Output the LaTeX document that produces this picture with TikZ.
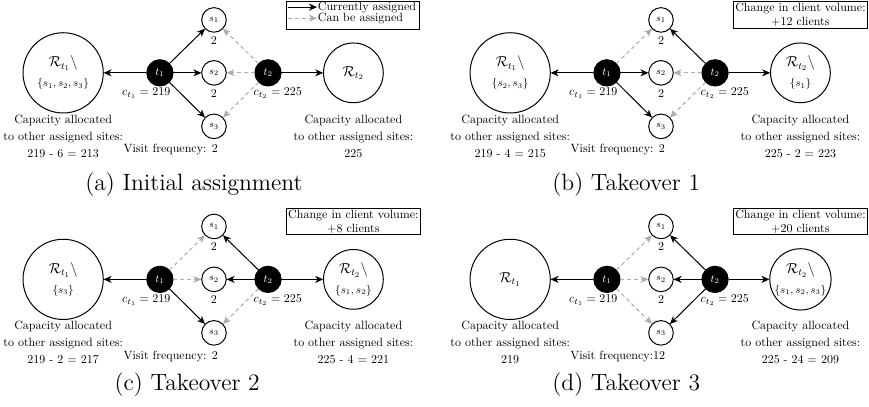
\documentclass[tikz,border=0pt]{standalone}
\usepackage{tikz}
\usetikzlibrary{arrows.meta}

\newcommand{\siteset}[1]{{\fontsize{9}{11}\selectfont$\{#1\}$}}

\begin{document}
\begin{tikzpicture}[line width=0.5pt]

		\tikzstyle{panel}=[scale=0.6, every node/.style={transform shape}]
		\tikzstyle{task}=[circle, draw=black, fill=black, text=white, minimum size=7.7mm, inner sep=0pt, font=\fontsize{9}{10}\selectfont]
		\tikzstyle{site}=[circle, draw=black, fill=white, minimum size=7.2mm, inner sep=0pt, font=\fontsize{8}{10}\selectfont]
		\tikzstyle{pool}=[circle, draw=black, inner sep=0pt, align=center, font=\fontsize{12}{16.5}\selectfont]
		\tikzstyle{cur}=[-{Stealth[length=4pt, width=3.5pt, inset=1.2pt]}, black]
		\tikzstyle{can}=[-{Stealth[length=4pt, width=3.5pt, inset=1.2pt]}, gray!65, dash pattern=on 2pt off 1.5pt]
		\tikzstyle{lbl}=[inner sep=0pt, align=center, font=\fontsize{10}{14.2}\selectfont]
		\tikzstyle{vol}=[draw=black, inner sep=1.3pt, align=center, font=\fontsize{10}{11.7}\selectfont]
		\tikzstyle{subcap}=[inner sep=0pt, font=\fontsize{11.8}{14}\selectfont]

		\useasboundingbox (-3.76,-5.87) rectangle (11.51,1.28);

		%% (a) initial assignment
		\begin{scope}[panel]
		\node (Ra1) at (-4.417,0) [pool, minimum size=23.5mm] {$\mathcal{R}_{t_1}\backslash$\\\siteset{s_1,s_2,s_3}};
		\node (ta1) at (-1.583,0) [task] {$t_1$};
		\node (sa1) at (0,1.55) [site] {$s_1$};
		\node (sa2) at (0,0) [site] {$s_2$};
		\node (sa3) at (0,-1.567) [site] {$s_3$};
		\node (ta2) at (1.583,0) [task] {$t_2$};
		\node (Ra2) at (4.083,0) [pool, minimum size=17.5mm] {$\mathcal{R}_{t_2}$};

		\draw [cur] (ta1) -- (Ra1);
		\draw [cur] (ta1) -- (sa1);
		\draw [cur] (ta1) -- (sa2);
		\draw [cur] (ta1) -- (sa3);
		\draw [can] (ta2) -- (sa1);
		\draw [can] (ta2) -- (sa2);
		\draw [can] (ta2) -- (sa3);
		\draw [cur] (ta2) -- (Ra2);

		\node (fa1) at (0,0.95) [lbl] {2};
		\node (fa2) at (0,-0.6) [lbl] {2};
		\node (ca1) at (-1.983,-0.6) [lbl] {$c_{t_1} = 219$};
		\node (ca2) at (1.867,-0.6) [lbl] {$c_{t_2} = 225$};
		\node (ka1) at (-4.417,-1.85) [lbl] {Capacity allocated\\to other assigned sites:\\219 - 6 = 213};
		\node (ka2) at (4.083,-1.85) [lbl] {Capacity allocated\\to other assigned sites:\\225};
		\node (va) at (-1.267,-2.25) [lbl] {Visit frequency: 2};

		%% legend
		\node (leg) at (4.083,1.692) [draw=black, minimum width=3.9cm, minimum height=0.82cm] {};
		\coordinate (la1) at (2.167,1.925);
		\coordinate (la2) at (3.017,1.925);
		\coordinate (lb1) at (2.167,1.6);
		\coordinate (lb2) at (3.017,1.6);
		\draw [cur] (la1) -- (la2);
		\draw [can] (lb1) -- (lb2);
		\node (lta) at (la2) [lbl, anchor=west, xshift=0.5pt] {Currently assigned};
		\node (ltb) at (lb2) [lbl, anchor=west, xshift=0.5pt] {Can be assigned};
		\end{scope}

		%% (b) takeover 1
		\begin{scope}[shift={(7.855,0)}, panel]
		\node (Rb1) at (-4.417,0) [pool, minimum size=23.5mm] {$\mathcal{R}_{t_1}\backslash$\\\siteset{s_2,s_3}};
		\node (tb1) at (-1.583,0) [task] {$t_1$};
		\node (sb1) at (0,1.55) [site] {$s_1$};
		\node (sb2) at (0,0) [site] {$s_2$};
		\node (sb3) at (0,-1.567) [site] {$s_3$};
		\node (tb2) at (1.583,0) [task] {$t_2$};
		\node (Rb2) at (4.083,0) [pool, minimum size=17.5mm] {$\mathcal{R}_{t_2}\backslash$\\\siteset{s_1}};

		\draw [cur] (tb1) -- (Rb1);
		\draw [can] (tb1) -- (sb1);
		\draw [cur] (tb1) -- (sb2);
		\draw [cur] (tb1) -- (sb3);
		\draw [cur] (tb2) -- (sb1);
		\draw [can] (tb2) -- (sb2);
		\draw [can] (tb2) -- (sb3);
		\draw [cur] (tb2) -- (Rb2);

		\node (fb1) at (0,0.95) [lbl] {2};
		\node (fb2) at (0,-0.6) [lbl] {2};
		\node (cb1) at (-1.983,-0.6) [lbl] {$c_{t_1} = 219$};
		\node (cb2) at (1.867,-0.6) [lbl] {$c_{t_2} = 225$};
		\node (kb1) at (-4.417,-1.85) [lbl] {Capacity allocated\\to other assigned sites:\\219 - 4 = 215};
		\node (kb2) at (4.083,-1.85) [lbl] {Capacity allocated\\to other assigned sites:\\225 - 2 = 223};
		\node (vb) at (-1.267,-2.25) [lbl] {Visit frequency: 2};
		\node (boxb) at (4.083,1.7) [vol] {Change in client volume:\\+12 clients};
		\end{scope}

		%% (c) takeover 2
		\begin{scope}[shift={(0,-3.629)}, panel]
		\node (Rc1) at (-4.417,0) [pool, minimum size=23.5mm] {$\mathcal{R}_{t_1}\backslash$\\\siteset{s_3}};
		\node (tc1) at (-1.583,0) [task] {$t_1$};
		\node (sc1) at (0,1.55) [site] {$s_1$};
		\node (sc2) at (0,0) [site] {$s_2$};
		\node (sc3) at (0,-1.567) [site] {$s_3$};
		\node (tc2) at (1.583,0) [task] {$t_2$};
		\node (Rc2) at (4.083,0) [pool, minimum size=17.5mm] {$\mathcal{R}_{t_2}\backslash$\\\siteset{s_1,s_2}};

		\draw [cur] (tc1) -- (Rc1);
		\draw [can] (tc1) -- (sc1);
		\draw [can] (tc1) -- (sc2);
		\draw [cur] (tc1) -- (sc3);
		\draw [cur] (tc2) -- (sc1);
		\draw [cur] (tc2) -- (sc2);
		\draw [can] (tc2) -- (sc3);
		\draw [cur] (tc2) -- (Rc2);

		\node (fc1) at (0,0.95) [lbl] {2};
		\node (fc2) at (0,-0.6) [lbl] {2};
		\node (cc1) at (-1.983,-0.6) [lbl] {$c_{t_1} = 219$};
		\node (cc2) at (1.867,-0.6) [lbl] {$c_{t_2} = 225$};
		\node (kc1) at (-4.417,-1.85) [lbl] {Capacity allocated\\to other assigned sites:\\219 - 2 = 217};
		\node (kc2) at (4.083,-1.85) [lbl] {Capacity allocated\\to other assigned sites:\\225 - 4 = 221};
		\node (vc) at (-1.267,-2.25) [lbl] {Visit frequency: 2};
		\node (boxc) at (4.083,1.7) [vol] {Change in client volume:\\+8 clients};
		\end{scope}

		%% (d) takeover 3
		\begin{scope}[shift={(7.855,-3.629)}, panel]
		\node (Rd1) at (-4.417,0) [pool, minimum size=23.5mm] {$\mathcal{R}_{t_1}$};
		\node (td1) at (-1.583,0) [task] {$t_1$};
		\node (sd1) at (0,1.55) [site] {$s_1$};
		\node (sd2) at (0,0) [site] {$s_2$};
		\node (sd3) at (0,-1.567) [site] {$s_3$};
		\node (td2) at (1.583,0) [task] {$t_2$};
		\node (Rd2) at (4.083,0) [pool, minimum size=17.5mm] {$\mathcal{R}_{t_2}\backslash$\\\siteset{s_1,s_2,s_3}};

		\draw [cur] (td1) -- (Rd1);
		\draw [can] (td1) -- (sd1);
		\draw [can] (td1) -- (sd2);
		\draw [can] (td1) -- (sd3);
		\draw [cur] (td2) -- (sd1);
		\draw [cur] (td2) -- (sd2);
		\draw [cur] (td2) -- (sd3);
		\draw [cur] (td2) -- (Rd2);

		\node (fd1) at (0,0.95) [lbl] {2};
		\node (fd2) at (0,-0.6) [lbl] {2};
		\node (cd1) at (-1.983,-0.6) [lbl] {$c_{t_1} = 219$};
		\node (cd2) at (1.867,-0.6) [lbl] {$c_{t_2} = 225$};
		\node (kd1) at (-4.417,-1.85) [lbl] {Capacity allocated\\to other assigned sites:\\219};
		\node (kd2) at (4.083,-1.85) [lbl] {Capacity allocated\\to other assigned sites:\\225 - 24 = 209};
		\node (vd) at (-1.267,-2.25) [lbl] {Visit frequency:12};
		\node (boxd) at (4.083,1.7) [vol] {Change in client volume:\\+20 clients};
		\end{scope}

		%% sub-captions
		\node (capa) at (-0.35,-1.97) [subcap] {(a) Initial assignment};
		\node (capb) at (7.245,-1.97) [subcap] {(b) Takeover 1};
		\node (capc) at (-0.47,-5.479) [subcap] {(c) Takeover 2};
		\node (capd) at (7.245,-5.479) [subcap] {(d) Takeover 3};
\end{tikzpicture}
\end{document}
